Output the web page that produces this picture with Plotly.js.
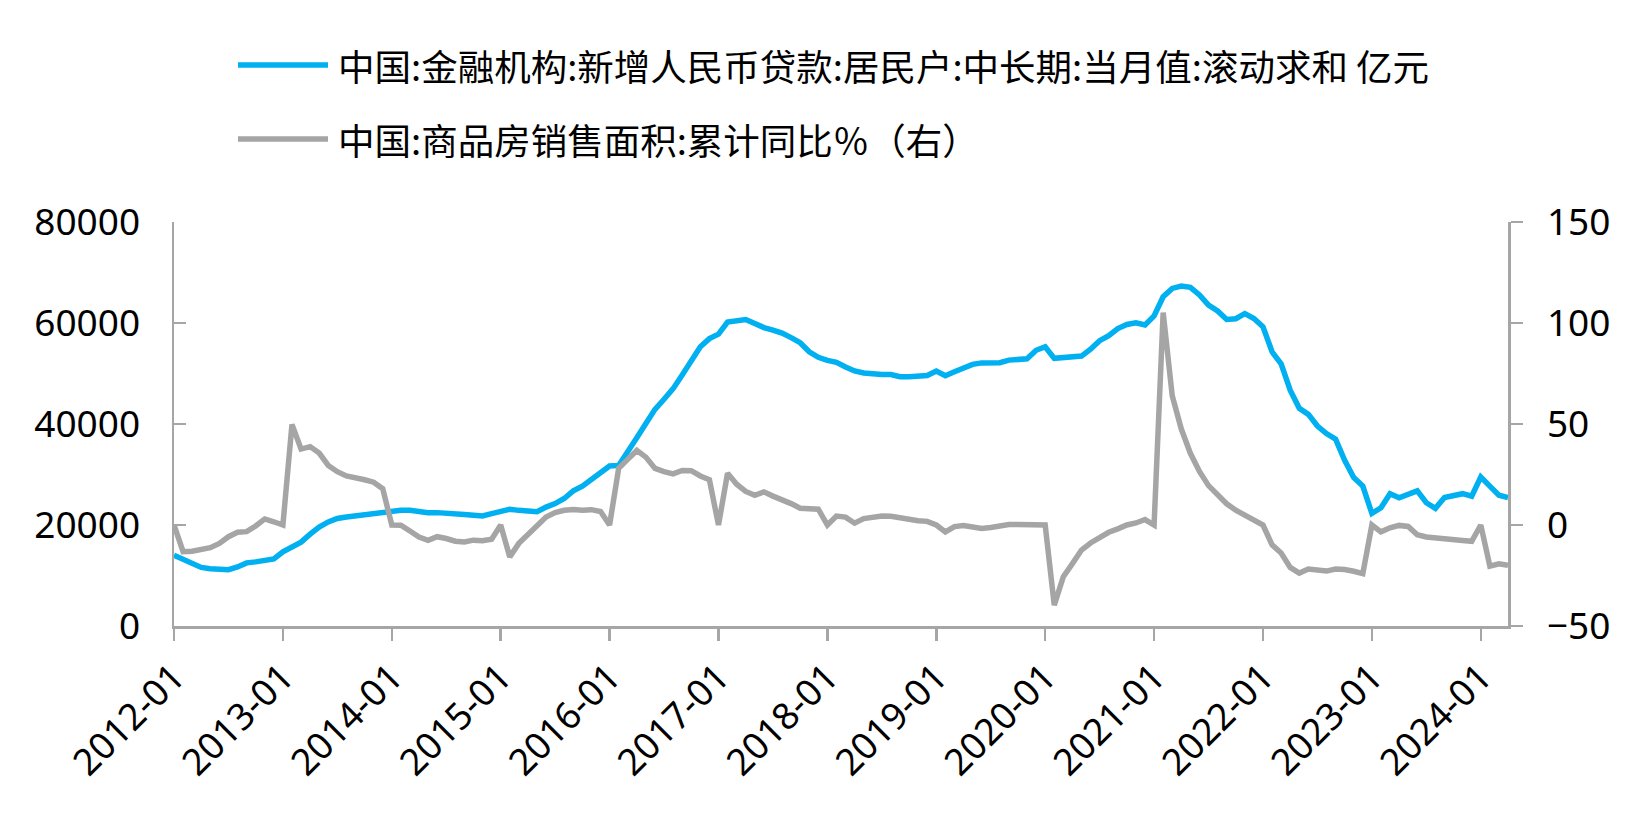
<!DOCTYPE html>
<html>
<head>
<meta charset="utf-8">
<script src="https://cdn.plot.ly/plotly-3.0.1.min.js"></script>
<style>
html,body{margin:0;padding:0;background:#fff;}
#chart{width:1650px;height:818px;}
</style>
</head>
<body>
<div id="chart"></div>
<script>
// Month categories 2012-01 .. 2024-04
var startYear = 2012, endYear = 2024, endMonth = 4;
var months = [];
for (var y = startYear; y <= endYear; y++) {
  for (var m = 1; m <= 12; m++) {
    if (y === endYear && m > endMonth) break;
    months.push(y + '-' + (m < 10 ? '0' + m : m));
  }
}
var tickLabels = ['2012-01','2013-01','2014-01','2015-01','2016-01','2017-01','2018-01','2019-01','2020-01','2021-01','2022-01','2023-01','2024-01'];

// 中国:金融机构:新增人民币贷款:居民户:中长期:当月值:滚动求和 (亿元)
var loanValues = [
  14000,13200,12400,11600,11350,11300,11150,11700,12500,12700,13000,13300,
  14700,15800,16600,18200,19600,20600,21300,21600,21800,22100,22450,22500,
  22700,22900,22900,22650,22450,22450,22400,22250,22100,21950,21800,22250,
  22550,23100,22900,22700,22650,23550,24250,25250,26750,27700,29100,30400,
  31700,31800,34800,37300,40100,42900,44900,47000,49700,52600,55300,56900,
  57800,60200,60500,60700,59900,59100,58600,58000,57100,56100,54300,53200,
  52600,52200,51300,50500,50100,49900,49800,49800,49350,49350,49550,49600,
  50500,49550,50350,51000,51800,52100,52150,52150,52650,52650,52900,54600,
  55300,53000,53200,53450,53450,54800,56500,57500,58900,59700,60050,59600,
  61400,65200,66850,67300,67050,65550,63550,62400,60700,60850,61850,60900,
  59250,54300,51900,46700,43100,41900,39600,38100,37000,32800,29400,27700,
  22300,23400,26200,25400,26100,26750,24400,23300,25450,25750,26200,25700,
  29500,27700,25900,25450
];

// 中国:商品房销售面积:累计同比 (%)
var salesYoY = [
  0,-13.2,-13.0,-12.4,-11.2,-9.1,-5.8,-3.6,-3.3,-0.5,3.0,1.6,
  0,49.8,37.6,38.8,35.6,29.5,26.4,24.3,23.6,22.4,21.2,18.0,
  0,-0.1,-3.0,-6.0,-7.6,-5.8,-6.7,-8.0,-8.4,-7.5,-7.8,-7.0,
  0,-15.8,-9.1,-4.6,-0.1,4.0,6.2,7.3,7.7,7.3,7.6,6.7,
  0,28.1,32.5,36.9,33.6,28.0,26.4,25.3,27.0,26.9,24.3,22.4,
  0,25.6,20.2,16.6,14.7,16.4,14.3,12.7,10.6,8.3,8.1,7.8,
  0,4.4,3.9,0.9,3.2,3.8,4.4,4.3,3.4,2.6,2.1,1.8,
  0,-3.4,-0.8,-0.3,-1.3,-1.7,-1.2,-0.4,0.2,0.2,0.2,0,
  0,-39.7,-25.6,-19.1,-12.4,-8.9,-6.3,-3.6,-1.9,0,1.0,2.7,
  0,105.2,64.0,47.5,35.5,26.5,19.5,14.5,10.5,7.3,4.8,2.2,
  0,-9.8,-13.9,-21.0,-23.8,-21.8,-22.6,-22.8,-21.8,-22.0,-22.9,-24.1,
  0,-3.4,-1.4,-0.2,-0.7,-4.8,-5.9,-6.5,-7.0,-7.4,-7.7,-8.1,
  0,-20.4,-19.2,-20.0
];

var loanName = '中国:金融机构:新增人民币贷款:居民户:中长期:当月值:滚动求和 亿元';
var salesName = '中国:商品房销售面积:累计同比％（右）';

var blue = '#00b0f0', gray = '#a5a5a5', axisGray = '#a6a6a6';
var fontFam = 'Noto Sans, Noto Sans CJK SC, sans-serif';
var tickSize = 37;

var traces = [
  {x: months, y: loanValues, type: 'scatter', mode: 'lines', name: loanName,
   line: {color: blue, width: 5.5}, xaxis: 'x', yaxis: 'y', showlegend: false},
  {x: months, y: salesYoY, type: 'scatter', mode: 'lines', name: salesName,
   line: {color: gray, width: 5.5}, xaxis: 'x', yaxis: 'y2', showlegend: false}
];

var L = 174, R = 142, T = 222, B = 192;
var plotW = 1650 - L - R, plotH = 818 - T - B;
function px2paperX(px) { return (px - L) / plotW; }
function px2paperY(py) { return (818 - B - py) / plotH; }

var legendRows = [
  {name: loanName, color: blue, y: 65},
  {name: salesName, color: gray, y: 139}
];
var shapes = [], annotations = [];
legendRows.forEach(function (r) {
  shapes.push({type: 'line', xref: 'paper', yref: 'paper',
    x0: px2paperX(238), x1: px2paperX(328), y0: px2paperY(r.y), y1: px2paperY(r.y),
    line: {color: r.color, width: 5.5}});
  annotations.push({xref: 'paper', yref: 'paper', x: px2paperX(336), y: px2paperY(r.y),
    xanchor: 'left', yanchor: 'middle', showarrow: false, text: r.name,
    font: {family: 'Noto Sans CJK SC, sans-serif', size: 36.5, color: '#000'}});
});

var layout = {
  width: 1650, height: 818,
  margin: {l: L, r: R, t: T, b: B, pad: 0},
  paper_bgcolor: '#fff', plot_bgcolor: '#fff',
  font: {family: fontFam, size: tickSize, color: '#000'},
  showlegend: false,
  xaxis: {
    type: 'category', range: [0, months.length - 1],
    tickmode: 'array', tickvals: tickLabels, ticktext: tickLabels,
    tickangle: -45, ticks: 'outside', ticklen: 12, tickwidth: 2.5, tickcolor: axisGray,
    showline: true, linecolor: axisGray, linewidth: 2.5,
    showgrid: false, zeroline: false,
    tickfont: {family: fontFam, size: tickSize, color: '#000'}
  },
  yaxis: {
    range: [0, 80000], dtick: 20000, tick0: 0, tickformat: 'd',
    ticks: 'inside', ticklen: 12, tickwidth: 2.5, tickcolor: axisGray,
    ticklabelstandoff: 24,
    showline: true, linecolor: axisGray, linewidth: 2.5,
    showgrid: false, zeroline: false,
    tickfont: {family: fontFam, size: tickSize, color: '#000'}
  },
  yaxis2: {
    overlaying: 'y', side: 'right',
    range: [-50, 150], dtick: 50, tick0: 0,
    ticks: 'outside', ticklen: 12, tickwidth: 2.5, tickcolor: axisGray,
    ticklabelstandoff: 17,
    showline: true, linecolor: axisGray, linewidth: 2.5,
    showgrid: false, zeroline: false,
    tickfont: {family: fontFam, size: tickSize, color: '#000'}
  },
  shapes: shapes,
  annotations: annotations
};

Plotly.newPlot('chart', traces, layout, {displayModeBar: false, staticPlot: true});
</script>
</body>
</html>
